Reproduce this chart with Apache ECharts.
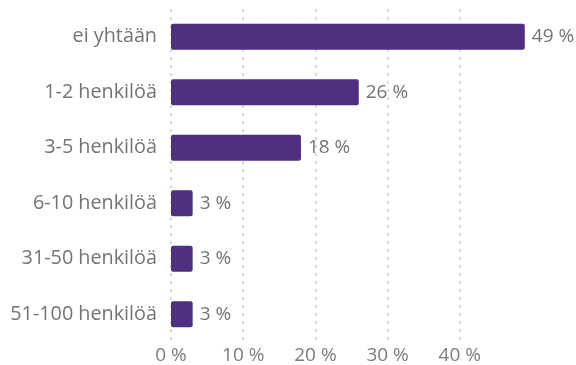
<!DOCTYPE html>
<html>
<head>
<meta charset="utf-8">
<script src="https://cdn.jsdelivr.net/npm/echarts@6/dist/echarts.min.js"></script>
<style>
  html, body { margin: 0; padding: 0; background: #fff; }
  #chart { width: 576px; height: 365px; }
</style>
</head>
<body>
<div id="chart"></div>
<script>
// Survey answers: number of people, share of respondents (%)
const categories = ['ei yhtään', '1-2 henkilöä', '3-5 henkilöä', '6-10 henkilöä', '31-50 henkilöä', '51-100 henkilöä'];
const shares = [49, 26, 18, 3, 3, 3];
const tickStep = 10;
const axisMax = 50;

const chart = echarts.init(document.getElementById('chart'), null, { renderer: 'canvas' });
const font = '"Open Sans", "Noto Sans", sans-serif';

chart.setOption({
  animation: false,
  grid: { left: 171, top: 9, width: 361, height: 333, containLabel: false },
  xAxis: {
    type: 'value',
    min: 0,
    max: axisMax,
    interval: tickStep,
    axisLine: { show: false },
    axisTick: { show: false },
    axisLabel: {
      showMaxLabel: false,
      formatter: v => v + ' %',
      color: '#7c7c7c',
      fontFamily: font,
      fontSize: 19,
      margin: 4
    },
    splitLine: {
      show: true,
      showMaxLine: false,
      lineStyle: { color: '#d9d9d9', width: 2, type: [3, 5] }
    }
  },
  yAxis: {
    type: 'category',
    data: categories,
    inverse: true,
    axisLine: { show: false },
    axisTick: { show: false },
    axisLabel: {
      color: '#747474',
      fontFamily: font,
      fontSize: 19.8,
      margin: 14
    }
  },
  series: [{
    type: 'bar',
    data: shares,
    barWidth: 26,
    itemStyle: { color: '#4f2f7f', borderRadius: 2 },
    label: {
      show: true,
      position: 'right',
      distance: 7,
      formatter: p => p.value + ' %',
      color: '#747474',
      fontFamily: font,
      fontSize: 19
    }
  }]
});
</script>
</body>
</html>
